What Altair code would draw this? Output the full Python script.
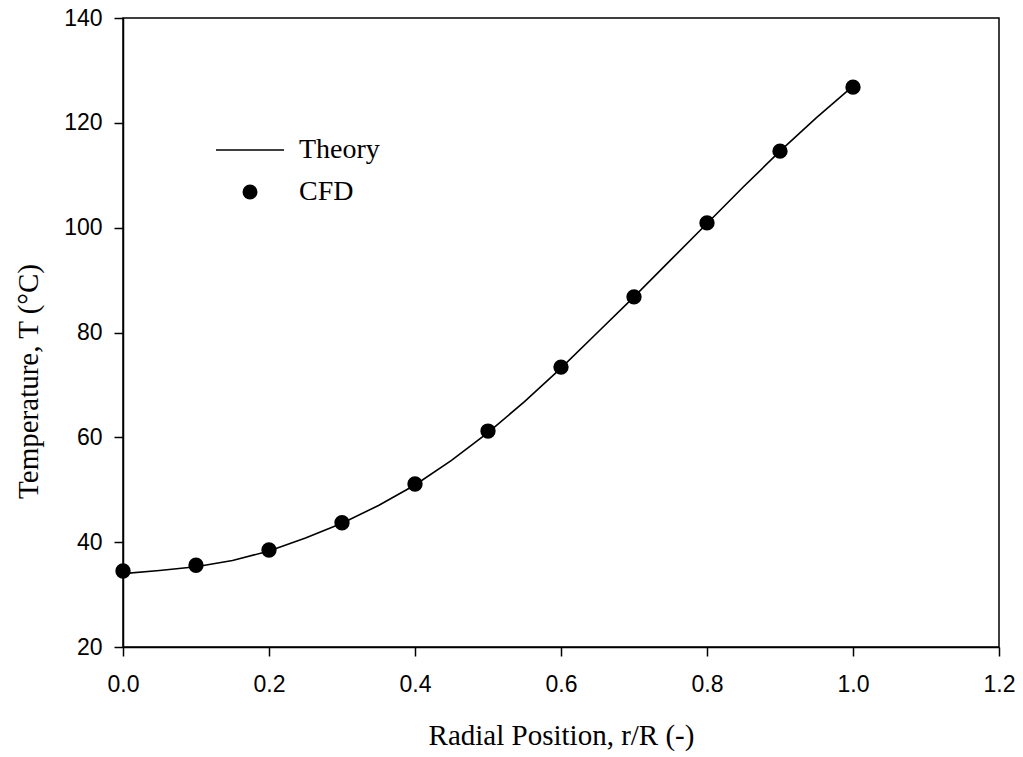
import altair as alt
import pandas as pd

# Theory curve
theory_r = [0.0, 0.05, 0.1, 0.15, 0.2, 0.25, 0.3, 0.35, 0.4, 0.45, 0.5,
            0.55, 0.6, 0.65, 0.7, 0.75, 0.8, 0.85, 0.9, 0.95, 1.0]
theory_T = [34.0, 34.6, 35.3, 36.5, 38.3, 40.8, 43.6, 47.0, 50.9, 55.6, 60.9,
            66.8, 73.2, 80.0, 86.8, 93.8, 100.8, 107.8, 114.6, 121.0, 127.0]

# CFD points
cfd_r = [0.0, 0.1, 0.2, 0.3, 0.4, 0.5, 0.6, 0.7, 0.8, 0.9, 1.0]
cfd_T = [34.5, 35.6, 38.5, 43.7, 51.1, 61.2, 73.4, 86.8, 100.9, 114.6, 126.8]

x_ticks = [0.0, 0.2, 0.4, 0.6, 0.8, 1.0, 1.2]
y_ticks = [20, 40, 60, 80, 100, 120, 140]

theory = pd.DataFrame({"r": theory_r, "T": theory_T, "series": "Theory"})
cfd = pd.DataFrame({"r": cfd_r, "T": cfd_T, "series": "CFD"})

SANS = "Liberation Sans"
SERIF = "Liberation Serif"

x_enc = alt.X("r:Q",
              scale=alt.Scale(domain=[0, 1.2], nice=False, zero=False),
              axis=alt.Axis(values=x_ticks, format=".1f", grid=False,
                            title="Radial Position, r/R (-)",
                            labelFlush=False, labelOverlap=False,
                            tickSize=9, labelPadding=17, titlePadding=25,
                            titleFontSize=29))
y_enc = alt.Y("T:Q",
              scale=alt.Scale(domain=[20, 140], nice=False, zero=False),
              axis=alt.Axis(values=y_ticks, grid=False,
                            title="Temperature, T (°C)",
                            labelFlush=False, labelOverlap=False,
                            tickSize=9, labelPadding=12, titlePadding=20,
                            titleY=363, titleFontSize=29))

line = alt.Chart(theory).mark_line(strokeWidth=1.6, color="black").encode(
    x=x_enc, y=y_enc,
    color=alt.Color("series:N",
                    scale=alt.Scale(domain=["Theory"], range=["#000000"]),
                    legend=alt.Legend(orient="none", legendX=92, legendY=97,
                                      title=None, symbolType="stroke",
                                      symbolSize=4624, symbolStrokeWidth=1.6,
                                      labelOffset=14)),
)

points = alt.Chart(cfd).mark_point(filled=True, size=235, opacity=1, color="black").encode(
    x=x_enc, y=y_enc,
    shape=alt.Shape("series:N",
                    scale=alt.Scale(domain=["CFD"], range=["circle"]),
                    legend=alt.Legend(orient="none", legendX=113, legendY=160,
                                      title=None, symbolSize=225,
                                      symbolFillColor="black",
                                      symbolStrokeColor="black",
                                      labelOffset=35)),
)

chart = alt.layer(line, points).properties(
    width=876, height=629,
    autosize=alt.AutoSizeParams(type="none"),
    padding={"left": 123, "top": 18, "right": 24, "bottom": 110},
    background="white",
).configure_view(
    stroke="black", strokeWidth=1.5
).configure_axis(
    domainColor="black", domainWidth=1.5, tickColor="black", tickWidth=1.5,
    labelFont=SANS, labelFontSize=23, labelColor="black",
    titleFont=SERIF, titleFontSize=28, titleFontWeight="normal", titleColor="black",
).configure_legend(
    labelFont=SERIF, labelFontSize=28, labelColor="black", padding=0,
)

chart.save("out.html", embed_options={"renderer": "svg", "actions": False})
